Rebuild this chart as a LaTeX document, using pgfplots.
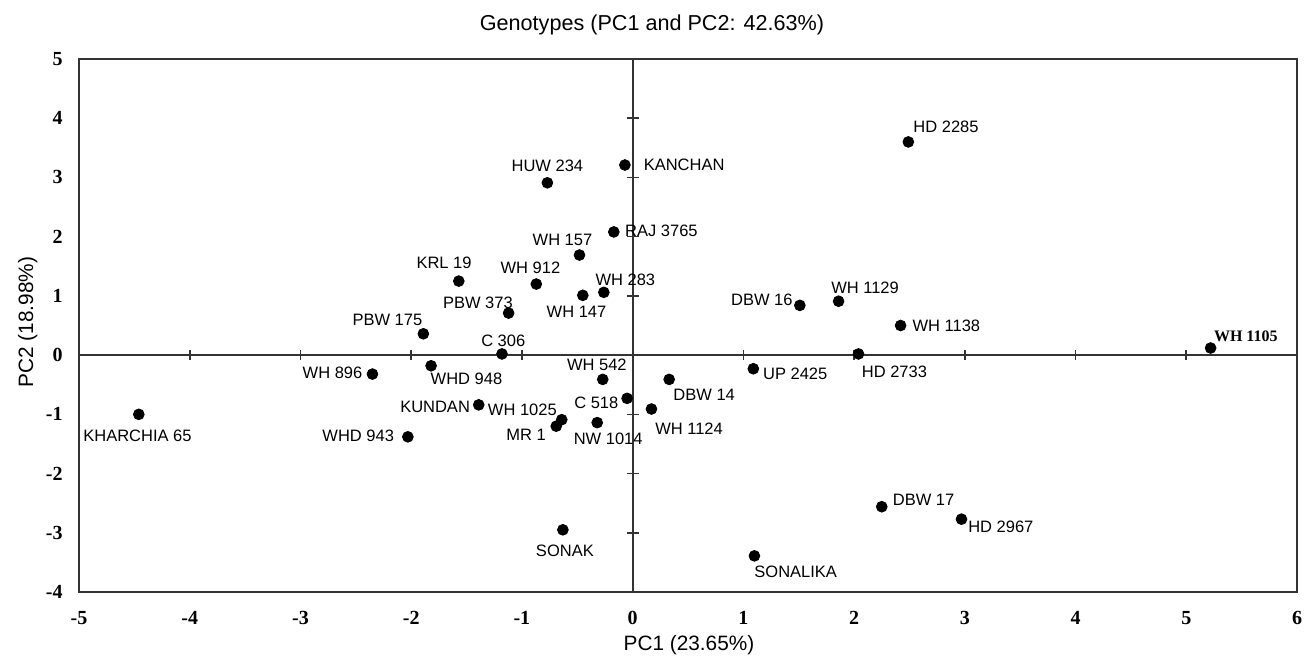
\documentclass[border=0pt]{standalone}
\usepackage{pgfplots}
\pgfplotsset{compat=1.18}
\usepackage{fontspec}
\setmainfont{Liberation Sans}
\newfontfamily\serif{Liberation Serif}

\begin{document}
\begin{tikzpicture}
\useasboundingbox (0,0) rectangle (657pt,329.5pt);
\begin{axis}[
    at={(39.5pt,33.5pt)}, anchor=south west,
    scale only axis,
    width=609pt, height=266.5pt,
    xmin=-5, xmax=6, ymin=-4, ymax=5,
    xtick={-5,...,6}, ytick={-4,...,5},
    major tick length=0pt,
    axis line style={line width=1pt, black!80},
    ticklabel style={font=\serif\bfseries\fontsize{10}{10}\selectfont, inner sep=0pt},
    xticklabel style={anchor=north, yshift=-9.5pt},
    yticklabel style={anchor=east, xshift=-8pt},
    /pgf/number format/assume math mode=true,
    clip=false,
]
% centre lines with crossing ticks
\draw[line width=0.9pt, black!80] (axis cs:-5,0) -- (axis cs:6,0);
\draw[line width=0.9pt, black!80] (axis cs:0,-4) -- (axis cs:0,5);
\pgfplotsinvokeforeach{-4,-3,-2,-1,1,2,3,4,5}{
    \draw[line width=0.8pt, black!80] ([yshift=-2.5pt]axis cs:#1,0) -- ([yshift=2.5pt]axis cs:#1,0);
}
\pgfplotsinvokeforeach{-3,-2,-1,1,2,3,4}{
    \draw[line width=0.8pt, black!80] ([xshift=-3pt]axis cs:0,#1) -- ([xshift=3pt]axis cs:0,#1);
}

% genotype scores; dx/dy = label offset in pt, anc = label anchor
\addplot[only marks, mark=*, mark size=2.7pt, black,
    point meta=explicit symbolic,
    visualization depends on={value \thisrow{dx}\as\labdx},
    visualization depends on={value \thisrow{dy}\as\labdy},
    visualization depends on={value \thisrow{anc}\as\labanc},
    nodes near coords,
    every node near coord/.append style={anchor=\labanc, xshift=\labdx pt, yshift=\labdy pt,
        inner sep=0pt, font=\fontsize{8.25}{9}\selectfont, black}]
    table[col sep=comma, x=x, y=y, meta=label] {
x,y,dx,dy,anc,label
2.49,3.60,2.35,4.65,base west,HD 2285
-0.07,3.21,9.25,-2.5,base west,KANCHAN
-0.77,2.91,0,5.85,base,HUW 234
-0.17,2.08,5.5,-2.5,base west,RAJ 3765
-0.48,1.69,-8.5,5,base,WH 157
-1.57,1.25,-7.35,6.15,base,KRL 19
-0.87,1.20,-2.95,5.35,base,WH 912
-0.26,1.06,10.75,3.35,base,WH 283
-0.45,1.01,-3.15,-10.85,base,WH 147
-1.12,0.71,-15.35,2.5,base,PBW 373
-1.89,0.36,-18,4.35,base,PBW 175
-1.18,0.02,0.65,3.85,base,C 306
-2.35,-0.32,-4.85,-2.35,base east,WH 896
-1.82,-0.18,-0.4,-9.35,base west,WHD 948
-0.27,-0.41,-2.95,4.5,base,WH 542
-0.05,-0.73,-4.2,-4.85,base east,C 518
-1.39,-0.84,-4.2,-3.85,base east,KUNDAN
-0.64,-1.09,-2.3,1.85,base east,WH 1025
-0.69,-1.20,-5,-7,base east,MR 1
-0.32,-1.14,5.5,-11,base,NW 1014
-4.46,-1.00,-0.65,-13.35,base,KHARCHIA 65
-2.03,-1.38,-6.75,-2.15,base east,WHD 943
-0.63,-2.95,1,-13.35,base,SONAK
2.42,0.50,5.8,-2.85,base west,WH 1138
2.04,0.02,1.5,-11.85,base west,HD 2733
1.09,-0.23,4.7,-5.35,base west,UP 2425
0.33,-0.41,1.95,-10.5,base west,DBW 14
0.17,-0.91,1.7,-12.5,base west,WH 1124
2.25,-2.56,5.35,0.65,base west,DBW 17
2.97,-2.77,3.2,-6.5,base west,HD 2967
1.10,-3.39,-0.2,-11,base west,SONALIKA
1.51,0.84,-3.45,0,base east,DBW 16
1.86,0.91,-3.85,3.85,base west,WH 1129
};

\addplot[only marks, mark=*, mark size=2.7pt, black,
    point meta=explicit symbolic,
    nodes near coords,
    every node near coord/.append style={anchor=base west, xshift=1.5pt, yshift=3.5pt,
        inner sep=0pt, font=\serif\bfseries\fontsize{8}{9}\selectfont, black}]
    table[col sep=comma, x=x, y=y, meta=label] {
x,y,label
5.22,0.12,WH 1105
};
\end{axis}
\node[anchor=base, inner sep=0pt, font=\fontsize{10.8}{12}\selectfont] at (326pt,314pt) {Genotypes (PC1 and PC2: 42.63\%)};
\node[anchor=base, inner sep=0pt, font=\fontsize{10.4}{12}\selectfont] at (344.5pt,4pt) {PC1 (23.65\%)};
\node[anchor=base, rotate=90, inner sep=0pt, font=\fontsize{10.4}{12}\selectfont] at (16.5pt,168.5pt) {PC2 (18.98\%)};
\end{tikzpicture}
\end{document}
